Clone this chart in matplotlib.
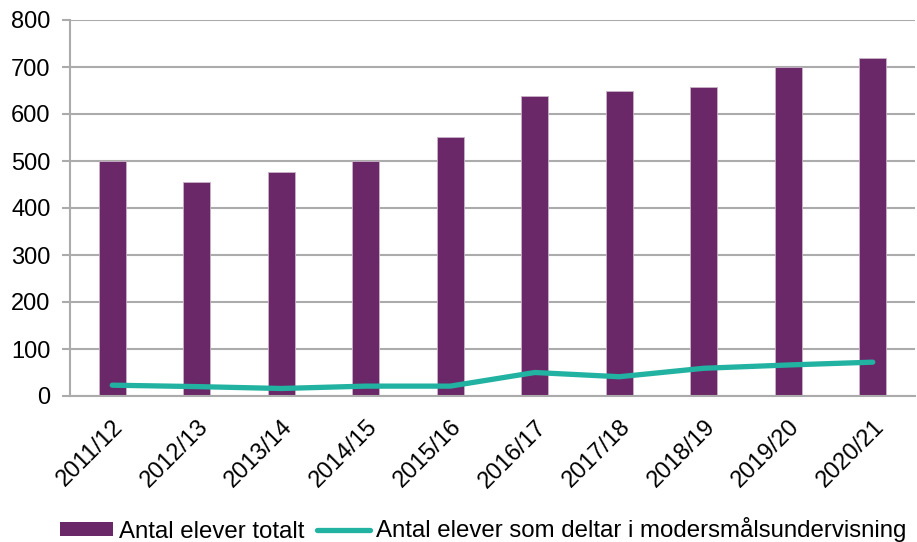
import matplotlib
matplotlib.use("Agg")
import matplotlib.pyplot as plt
import matplotlib.transforms as mtransforms
import numpy as np
from matplotlib.patches import Patch
from matplotlib.lines import Line2D

plt.rcParams["font.family"] = ["Liberation Sans", "DejaVu Sans"]

years = ["2011/12", "2012/13", "2013/14", "2014/15", "2015/16",
         "2016/17", "2017/18", "2018/19", "2019/20", "2020/21"]
total = [500, 456, 477, 501, 552, 639, 650, 658, 699, 720]
mother_tongue = [23, 20, 16, 21, 21, 50, 41, 59, 66, 72]
y_ticks = [0, 100, 200, 300, 400, 500, 600, 700, 800]

PURPLE = "#6B2868"
TEAL = "#22B2A1"
GRID = "#ABABAB"

fig = plt.figure(figsize=(9.17, 5.42), dpi=100)
ax = fig.add_axes([70 / 917, 146 / 542, 845 / 917, 376 / 542])

x = np.arange(len(years))
ax.bar(x, total, width=0.32, color=PURPLE, edgecolor="#C9B3C8", linewidth=0.6, zorder=2)
ax.plot(x, mother_tongue, color=TEAL, linewidth=3.8, solid_capstyle="round", zorder=3)

ax.set_xlim(-0.5, len(years) - 0.5)
ax.set_ylim(0, 800)
ax.set_yticks(y_ticks)
ax.set_yticklabels([str(v) for v in y_ticks], fontsize=17)
ax.tick_params(axis="y", length=6, width=1.5, color=GRID, pad=8)
ax.tick_params(axis="x", length=0, pad=20)
ax.set_xticks(x)
ax.set_xticklabels(years, fontsize=17, rotation=45, ha="right", va="center",
                   rotation_mode="anchor")
# nudge the rotated labels a little to the right, like the original
shift = mtransforms.ScaledTranslation(8 / 100, 0, fig.dpi_scale_trans)
for lbl in ax.get_xticklabels():
    lbl.set_transform(lbl.get_transform() + shift)

ax.grid(axis="y", color=GRID, linewidth=1.5, zorder=0)
ax.set_axisbelow(True)
for side in ["top", "right"]:
    ax.spines[side].set_visible(False)
ax.spines["left"].set_color(GRID)
ax.spines["left"].set_linewidth(1.5)
ax.spines["bottom"].set_color(GRID)
ax.spines["bottom"].set_linewidth(1.5)

handles = [
    Patch(facecolor=PURPLE, edgecolor="none"),
    Line2D([0], [0], color=TEAL, linewidth=3.8, solid_capstyle="round"),
]
labels = ["Antal elever totalt", "Antal elever som deltar i modersmålsundervisning"]
fig.legend(handles, labels, loc="center", bbox_to_anchor=(0.527, 12 / 542), ncol=2,
           frameon=False, fontsize=17.3, handlelength=2.2, handleheight=0.55,
           handletextpad=0.25, columnspacing=0.55, borderaxespad=0, borderpad=0)

fig.savefig("out.png", dpi=100)
